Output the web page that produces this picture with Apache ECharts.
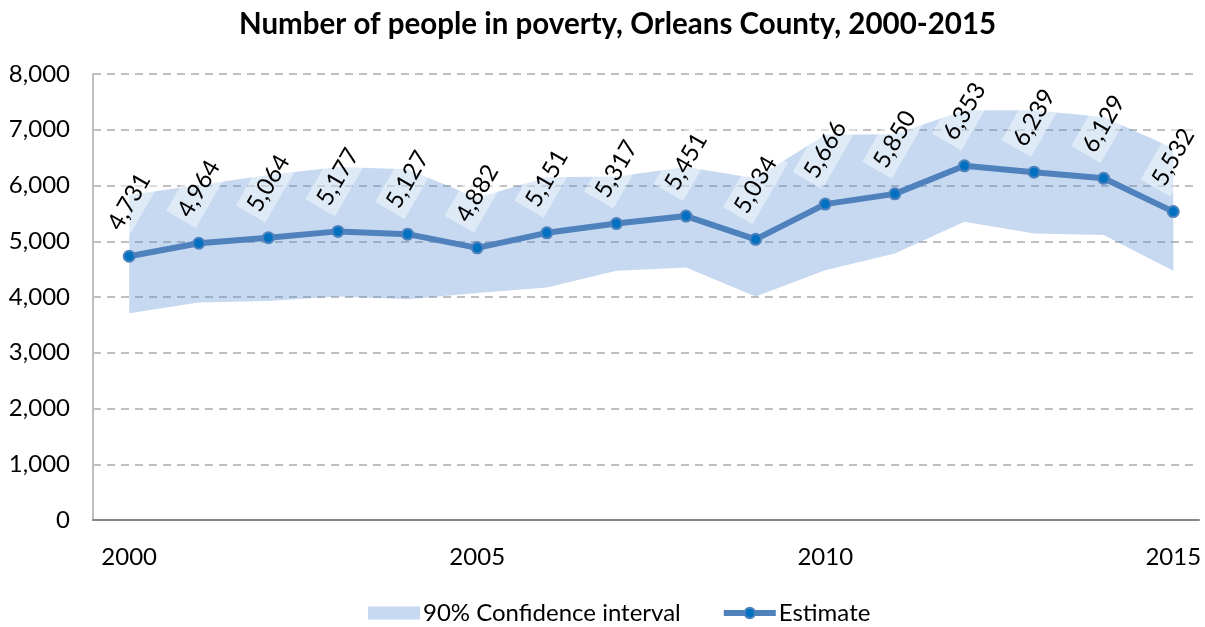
<!DOCTYPE html>
<html>
<head>
<meta charset="utf-8">
<title>Number of people in poverty, Orleans County, 2000-2015</title>
<script src="https://cdn.jsdelivr.net/npm/echarts@6/dist/echarts.min.js"></script>
<style>
  html, body { margin: 0; padding: 0; background: #fff; }
  #chart { width: 1205px; height: 627px; }
</style>
</head>
<body>
<div id="chart"></div>
<script>
// values
const years = [2000, 2001, 2002, 2003, 2004, 2005, 2006, 2007, 2008, 2009, 2010, 2011, 2012, 2013, 2014, 2015]
const estimate = [4731, 4964, 5064, 5177, 5127, 4882, 5151, 5317, 5451, 5034, 5666, 5850, 6353, 6239, 6129, 5532]
const ciLower = [3710, 3900, 3930, 4010, 3960, 4070, 4170, 4470, 4530, 4010, 4480, 4780, 5350, 5140, 5110, 4470]
const ciUpper = [5830, 6010, 6190, 6330, 6290, 5780, 6150, 6160, 6330, 6130, 6910, 6920, 7350, 7350, 7230, 6670]
const xTicks = [2000, 2005, 2010, 2015]

const font = "Lato, 'Liberation Sans', sans-serif"

const chart = echarts.init(document.getElementById('chart'))

// stack works on the first value dimension, so put the value first and map it to y
const bandBase = ciLower.map((v, i) => [v, years[i]])
const bandWidth = ciUpper.map((v, i) => [v - ciLower[i], years[i]])

const option = {
  animation: false,
  textStyle: { fontFamily: font },
  title: {
    text: 'Number of people in poverty, Orleans County, 2000-2015',
    left: 234,
    top: 4,
    textStyle: { fontFamily: font, fontSize: 29.5, fontWeight: 'bold', color: '#000' }
  },
  legend: {
    top: 596,
    left: 363,
    itemWidth: 52,
    itemHeight: 13,
    itemGap: 40,
    textStyle: { fontFamily: font, fontSize: 24, color: '#000', padding: [0, 0, 0, -2] },
    data: [
      { name: '90% Confidence interval', icon: 'rect' },
      { name: 'Estimate', lineStyle: { width: 6, color: '#4f81bd' } }
    ]
  },
  grid: { left: 93, right: 6, top: 74, bottom: 107 },
  xAxis: {
    type: 'value',
    min: 1999.48,
    max: 2015.37,
    splitLine: { show: false },
    axisTick: { show: false },
    axisLine: { lineStyle: { color: '#868686', width: 2 } },
    axisLabel: {
      customValues: xTicks,
      formatter: v => String(v),
      fontSize: 24,
      color: '#000',
      margin: 25
    }
  },
  yAxis: {
    type: 'value',
    min: 0,
    max: 8000,
    interval: 1000,
    axisLine: { show: true, lineStyle: { color: '#bfbfbf', width: 2 } },
    axisTick: { show: false },
    splitLine: { lineStyle: { color: '#bfbfbf', type: [8, 6], width: 2 } },
    axisLabel: {
      fontSize: 24,
      color: '#000',
      margin: 23,
      formatter: v => v.toLocaleString('en-US')
    }
  },
  series: [
    {
      name: 'ci-base',
      type: 'line',
      stack: 'ci',
      encode: { x: 1, y: 0 },
      data: bandBase,
      lineStyle: { opacity: 0 },
      symbol: 'none',
      silent: true
    },
    {
      name: '90% Confidence interval',
      type: 'line',
      stack: 'ci',
      encode: { x: 1, y: 0 },
      data: bandWidth,
      lineStyle: { opacity: 0 },
      symbol: 'none',
      itemStyle: { color: '#c6d9f1' },
      areaStyle: { color: 'rgba(92,146,215,0.35)', opacity: 1 }
    },
    {
      name: 'Estimate',
      type: 'line',
      data: years.map((y, i) => [y, estimate[i]]),
      symbol: 'circle',
      symbolSize: 11,
      lineStyle: { color: '#4f81bd', width: 6 },
      itemStyle: { color: '#0070c0', borderColor: '#4f81bd', borderWidth: 2 },
      z: 5,
      label: {
        show: true,
        position: 'top',
        distance: 48,
        rotate: 60,
        align: 'center',
        verticalAlign: 'middle',
        fontSize: 24,
        color: '#000',
        backgroundColor: 'rgba(255,255,255,0.45)',
        padding: [0, 5, 10, 5],
        formatter: p => p.value[1].toLocaleString('en-US')
      }
    }
  ]
}

chart.setOption(option)
</script>
</body>
</html>
